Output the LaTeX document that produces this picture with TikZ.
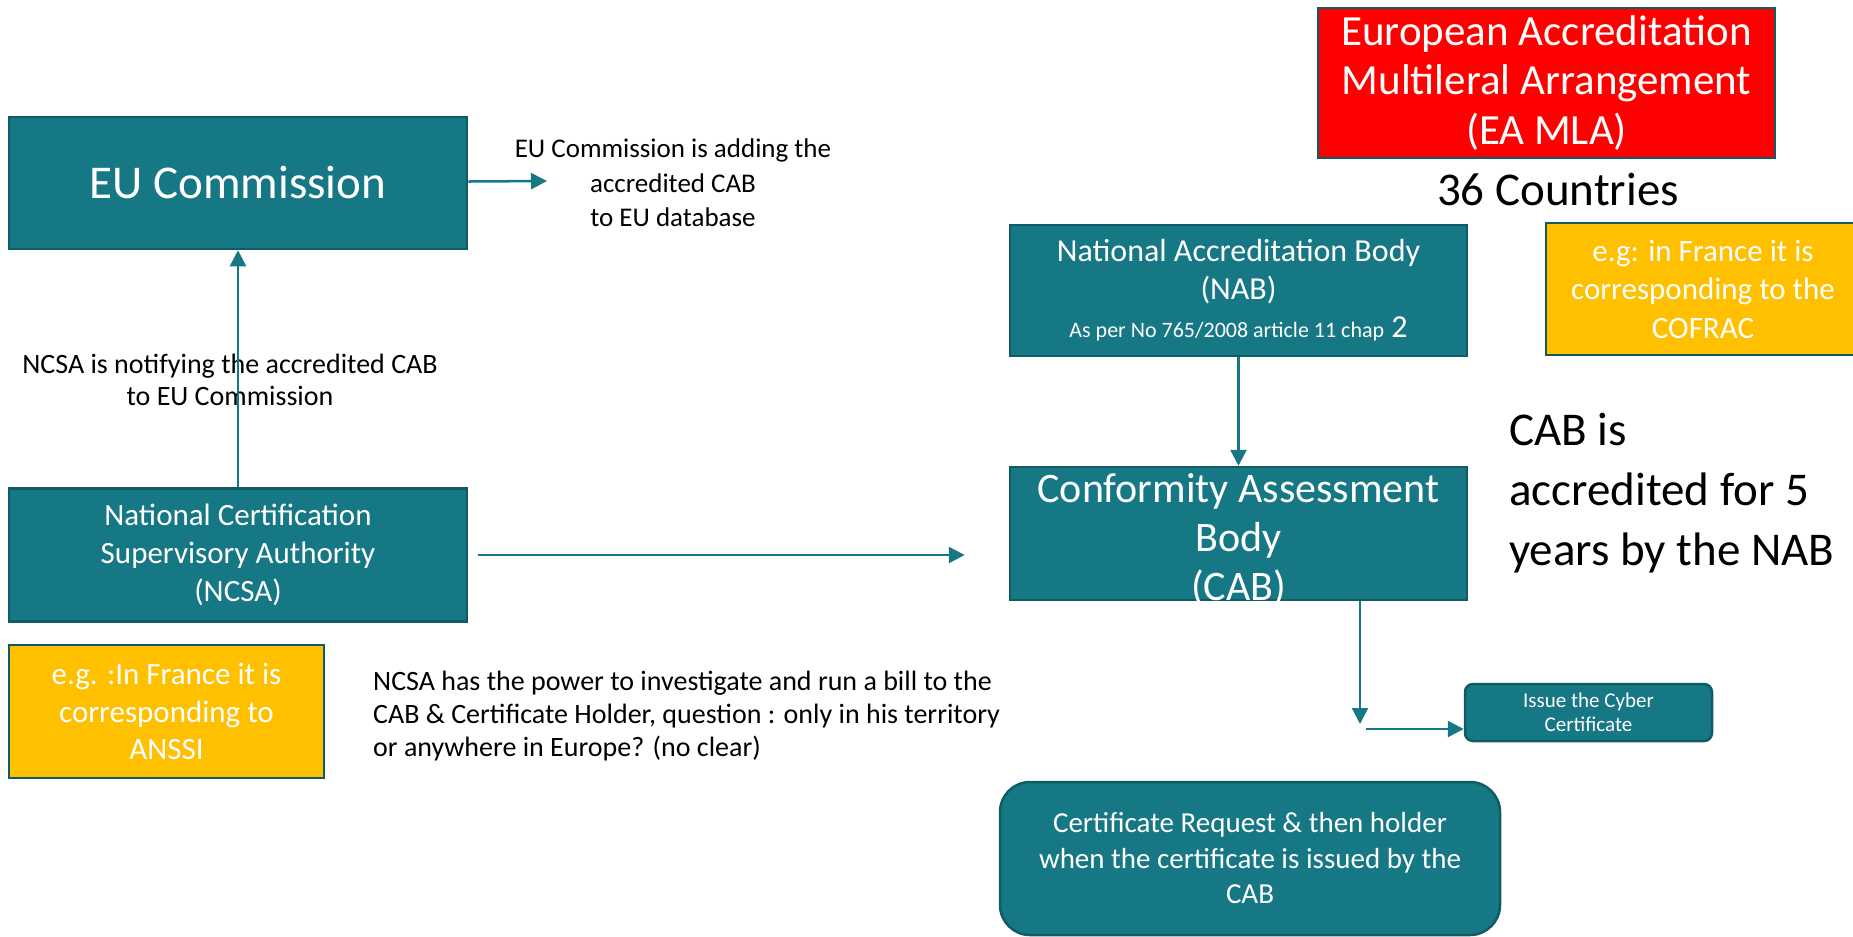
\documentclass[tikz,border=0pt]{standalone}
\usepackage{fontspec}
\setmainfont{Carlito}
\usetikzlibrary{arrows.meta}
\definecolor{boxteal}{RGB}{23,120,133}
\definecolor{edgeteal}{RGB}{16,92,102}
\definecolor{gold}{RGB}{255,192,0}
\definecolor{eared}{RGB}{255,0,0}

\begin{document}
\begin{tikzpicture}[x=1pt,y=-1pt,
    tealbox/.style={draw=edgeteal,line width=2.5pt,fill=boxteal,text=white,align=center,inner sep=0pt},
    goldbox/.style={draw=edgeteal,line width=2.5pt,fill=gold,text=white,align=center,inner sep=0pt},
    note/.style={text=black,align=center,inner sep=0pt},
    arr/.style={draw=boxteal,line width=2.5pt,-{Triangle[length=16pt,width=16pt]}}]
        \useasboundingbox (0,0) rectangle (1853,937);
        \clip (0,0) rectangle (1853,937);

        \node[tealbox,minimum width=458pt,minimum height=132pt,font=\fontsize{47}{56}\selectfont] (eu) at (238,183) {EU Commission};
        \node[note,font=\fontsize{27}{34.5}\selectfont] (addtxt) at (673,183) {EU Commission is adding the\\accredited CAB\\to EU database};
        \node[note,font=\fontsize{28}{32}\selectfont] (notify) at (230,380) {NCSA is notifying the accredited CAB\\to EU Commission};
        \node[tealbox,minimum width=458pt,minimum height=133pt,font=\fontsize{31}{38}\selectfont] (ncsa) at (238,555) {National Certification\\Supervisory Authority\\(NCSA)};
        \node[goldbox,minimum width=315pt,minimum height=133pt,font=\fontsize{31}{37.5}\selectfont] (anssi) at (166.5,711.5) {e.g. :In France it is\\corresponding to\\ANSSI};
        \node[note,align=left,anchor=west,font=\fontsize{28}{33}\selectfont] (power) at (373,716) {NCSA has the power to investigate and run a bill to the\\CAB \& Certificate Holder, question : only in his territory\\or anywhere in Europe? (no clear)};

        \node[goldbox,fill=eared,minimum width=457pt,minimum height=150pt,font=\fontsize{43}{49.5}\selectfont] (ea) at (1546.5,83) {European Accreditation\\Multileral Arrangement\\(EA MLA)};
        \node[note,font=\fontsize{47}{56}\selectfont] (countries) at (1558,190) {36 Countries};
        \node[tealbox,minimum width=457pt,minimum height=131pt,font=\fontsize{32}{38}\selectfont] (nab) at (1238.5,290.5) {National Accreditation Body\\(NAB)\\{\fontsize{22}{36}\selectfont As per No 765/2008 article 11 chap} 2};
        \node[goldbox,minimum width=314pt,minimum height=132pt,font=\fontsize{31}{38.5}\selectfont] (cofrac) at (1703,289) {e.g: in France it is\\corresponding to the\\COFRAC};
        \node[tealbox,minimum width=457pt,minimum height=133pt] (cab) at (1238.5,533.5) {};
        \node[text=white,align=center,inner sep=0pt,font=\fontsize{42}{49}\selectfont] (cabtxt) at (1238.5,540) {Conformity Assessment\\Body\\(CAB)};
        \node[note,align=left,anchor=west,font=\fontsize{47}{60}\selectfont] (cabnote) at (1509,493) {CAB is\\accredited for 5\\years by the NAB};
        \node[tealbox,rounded corners=8pt,minimum width=247pt,minimum height=57pt,font=\fontsize{21}{24}\selectfont] (issue) at (1588.5,712.5) {Issue the Cyber\\Certificate};
        \node[tealbox,rounded corners=30pt,minimum width=500pt,minimum height=153pt,font=\fontsize{29}{35.5}\selectfont] (cert) at (1250,858.5) {Certificate Request \& then holder\\when the certificate is issued by the\\CAB};

        \coordinate (addtip) at (547,181);
        \coordinate (drop) at (1360,724);
        \coordinate (turn) at (1366,729);

        \draw[arr] (eu) -- (addtip);
        \draw[arr] (ncsa) -- (eu);
        \draw[arr,shorten <=10pt,shorten >=44pt] (ncsa.east) -- (ncsa.east -| cab.west);
        \draw[arr] (nab) -- (cab);
        \draw[arr] (cab.south -| drop) -- (drop);
        \draw[arr] (turn) -- (turn -| issue.west);
    \end{tikzpicture}
\end{document}
